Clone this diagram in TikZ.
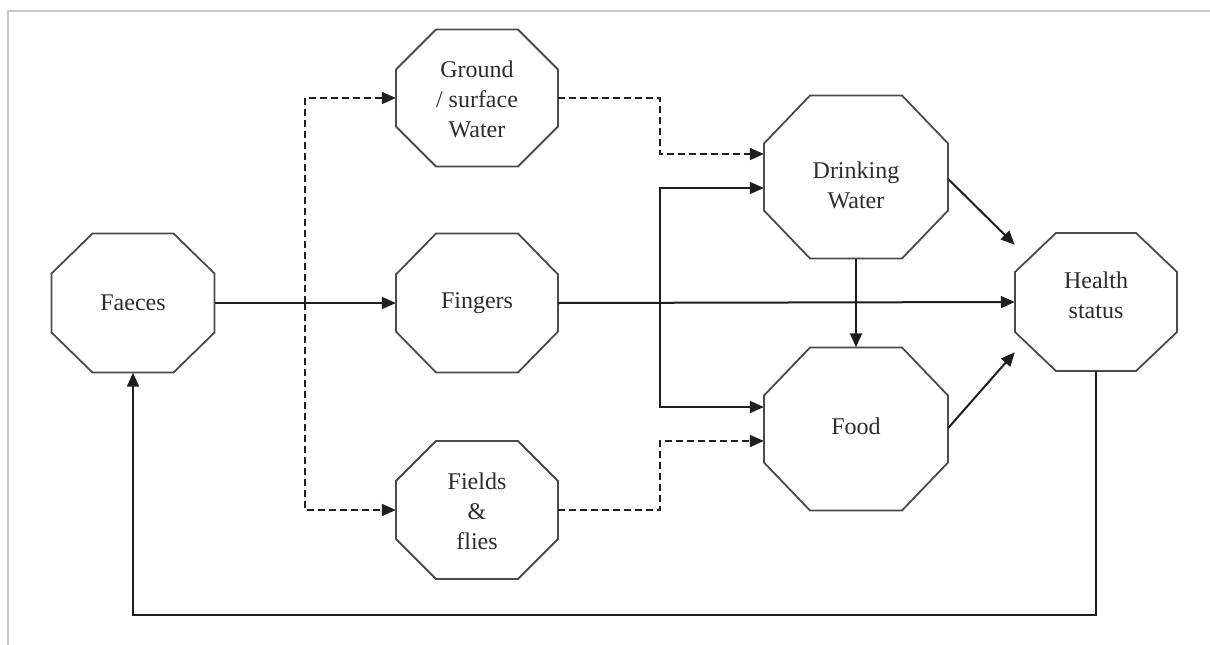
\documentclass[tikz,border=0pt]{standalone}
\usepackage{fontspec}
\setmainfont{Liberation Serif}
\usetikzlibrary{calc,arrows.meta}
\definecolor{frame}{RGB}{200,200,200}
\definecolor{ink}{RGB}{30,30,30}
\definecolor{txt}{RGB}{45,45,45}
\tikzset{
  octbox/.style={draw=none, inner sep=0pt, align=center, text=txt,
    font=\fontsize{24}{30}\selectfont},
  octline/.style={draw=ink!80, line width=1.8pt, line join=miter},
  sline/.style={draw=ink, line width=2pt},
  dline/.style={draw=ink, line width=2pt, dash pattern=on 7pt off 4pt},
  arr/.style={-{Triangle[length=14pt,width=12pt]}},
}
% name, cx, cy, w, h, chamfer x, chamfer y, text, text shift
\newcommand\octnode[9]{%
  \coordinate (#1-c) at (#2,#3);
  \node[octbox, minimum width=#4pt, minimum height=#5pt] (#1) at (#2,#3) {};
  \node[octbox] (#1-t) at ($(#1-c)+(0,#9)$) {#8};
  \draw[octline] (#2-#4/2+#6,#3-#5/2) -- (#2+#4/2-#6,#3-#5/2) -- (#2+#4/2,#3-#5/2+#7)
    -- (#2+#4/2,#3+#5/2-#7) -- (#2+#4/2-#6,#3+#5/2) -- (#2-#4/2+#6,#3+#5/2)
    -- (#2-#4/2,#3+#5/2-#7) -- (#2-#4/2,#3-#5/2+#7) -- cycle;
}
\begin{document}
\begin{tikzpicture}[x=1pt,y=-1pt]
\useasboundingbox (0,0) rectangle (1210,645);
\fill[white] (0,0) rectangle (1210,645);
% frame
\draw[frame, line width=2pt] (8,645) -- (8,11) -- (1210,11);

\octnode{faeces}{133}{303}{163}{139}{41}{40}{Faeces}{0}
\octnode{fingers}{477}{303}{162}{139}{40}{41}{Fingers}{0}
\octnode{ground}{477}{98}{162}{137}{40}{40}{Ground\\/ surface\\Water}{1}
\octnode{fields}{477}{510}{162}{138}{40}{40}{Fields\\\&\\flies}{1}
\octnode{drinking}{856}{177}{184}{163}{46}{48}{Drinking\\Water}{8}
\octnode{food}{856}{429}{184}{163}{46}{48}{Food}{-3}
\octnode{health}{1096}{302}{162}{138}{41}{39}{Health\\status}{-7}

\coordinate (j1) at (305,303);
\coordinate (bx) at (660,0);
\coordinate (bot) at (0,615);
\coordinate (dwin1) at ($(drinking.west)+(0,-23)$);
\coordinate (dwin2) at ($(drinking.west)+(0,11)$);
\coordinate (fin1) at ($(food.west)+(0,12)$);
\coordinate (fin2) at ($(food.west)+(0,-22)$);

% faeces to fingers and branches
\draw[sline,arr] (faeces.east) -- (fingers.west);
\draw[dline] (faeces.east) -- (j1);
\draw[dline,arr] (j1) |- (ground.west);
\draw[dline,arr] (j1) |- (fields.west);

% to drinking water / food
\draw[dline,arr] (ground.east) -| (bx |- dwin1) -- (dwin1);
\draw[dline,arr] (fields.east) -| (bx |- fin1) -- (fin1);
\draw[sline,arr] (fingers.east) -- (health.west);
\draw[sline,arr] (bx |- fingers.east) |- (dwin2);
\draw[sline,arr] (bx |- fingers.east) |- (fin2);

% drinking water to food, to health
\draw[sline,arr] (drinking.south) -- (food.north);
\draw[sline,arr] ($(drinking.east)+(0,2)$) -- ($(health.north west)+(0,12)$);
\draw[sline,arr] ($(food.east)+(0,-1)$) -- ($(health.south west)+(0,-19)$);

% feedback
\draw[sline,arr] (health.south) -- (health.south |- bot) -| (faeces.south);
\end{tikzpicture}
\end{document}
